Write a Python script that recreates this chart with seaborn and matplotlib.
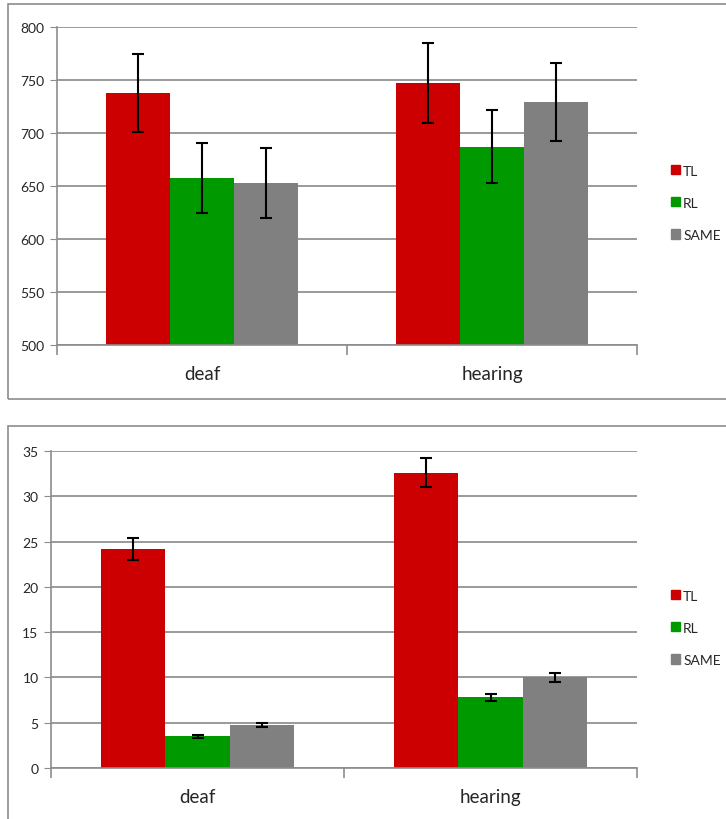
import matplotlib
matplotlib.use("Agg")
import matplotlib.pyplot as plt
import matplotlib.patches as mpatches
import seaborn as sns
import pandas as pd
import numpy as np

groups = ["deaf", "hearing"]
conditions = ["TL", "RL", "SAME"]
colors = ["#CC0000", "#009900", "#808080"]

# reaction times (ms)
rt_deaf = [738, 658, 653]
rt_hearing = [747, 687, 729]
rt_err_deaf = [37, 33, 33]
rt_err_hearing = [37.5, 34.5, 37]

# error counts
err_deaf = [24.2, 3.5, 4.75]
err_hearing = [32.6, 7.8, 10.0]
err_se_deaf = [1.2, 0.17, 0.17]
err_se_hearing = [1.6, 0.35, 0.45]

sns.set_style("white")
plt.rcParams["font.family"] = ["Lato", "DejaVu Sans"]

fig = plt.figure(figsize=(7.26, 8.2), dpi=100)
W, H = 726, 820


def frac_axes(x0, y0, x1, y1):
    return fig.add_axes([x0 / W, 1 - y1 / H, (x1 - x0) / W, (y1 - y0) / H])


def draw_panel(ax, vals_a, vals_b, errs_a, errs_b, ylim, step, leg_y):
    df = pd.DataFrame({
        "group": [groups[0]] * 3 + [groups[1]] * 3,
        "cond": conditions * 2,
        "value": list(vals_a) + list(vals_b),
        "err": list(errs_a) + list(errs_b),
    })
    ax.yaxis.grid(True, color="#9A9A9A", lw=1.4, zorder=0)
    ax.set_axisbelow(True)
    sns.barplot(data=df, x="group", y="value", hue="cond", order=groups,
                hue_order=conditions, palette=colors, width=0.66, gap=0,
                errorbar=None, ax=ax, zorder=2, linewidth=0, saturation=1)
    # error bars at bar centres
    for i, cond in enumerate(conditions):
        cont = ax.containers[i]
        for j, bar in enumerate(cont):
            row = df[(df.cond == cond) & (df.group == groups[j])].iloc[0]
            xc = bar.get_x() + bar.get_width() / 2
            ax.errorbar(xc, row.value, yerr=row.err, fmt="none", ecolor="black",
                        elinewidth=1.5, capsize=4, capthick=1.5, zorder=3)
    ax.set_ylim(*ylim)
    ax.set_yticks(np.arange(ylim[0], ylim[1] + step / 2, step))
    ax.set_xlim(-0.5, 1.5)
    ax.set_xlabel("")
    ax.set_ylabel("")
    for s in ["top", "right"]:
        ax.spines[s].set_visible(False)
    for s in ["left", "bottom"]:
        ax.spines[s].set_color("#8C8C8C")
        ax.spines[s].set_linewidth(1.2)
    ax.tick_params(axis="y", left=True, length=5, color="#8C8C8C",
                   labelsize=10, pad=4)
    ax.set_xticks([0, 1])
    ax.set_xticklabels(groups, fontsize=13.5)
    ax.tick_params(axis="x", bottom=False, pad=11)
    # category boundary ticks on the x axis
    ax.set_xticks([-0.5, 0.5, 1.5], minor=True)
    ax.tick_params(axis="x", which="minor", bottom=True, length=7,
                   color="#8C8C8C", width=1.2)
    leg = ax.get_legend()
    if leg is not None:
        leg.remove()
    handles = [mpatches.Patch(color=c, label=l) for c, l in zip(colors, conditions)]
    fig.legend(handles=handles, loc="upper left", frameon=False,
               bbox_to_anchor=(665 / W, 1 - leg_y / H), fontsize=10,
               handlelength=0.65, handleheight=0.65, handletextpad=0.25,
               labelspacing=1.45, borderaxespad=0)


# outer chart frames
fig.patches.append(mpatches.Rectangle((8 / W, 1 - 400 / H), 730 / W, 395 / H,
                                      transform=fig.transFigure, fill=False,
                                      edgecolor="#8C8C8C", lw=1.2))
fig.patches.append(mpatches.Rectangle((8 / W, 1 - 830 / H), 730 / W, 403 / H,
                                      transform=fig.transFigure, fill=False,
                                      edgecolor="#8C8C8C", lw=1.2))

ax1 = frac_axes(57, 28, 637, 346)
draw_panel(ax1, rt_deaf, rt_hearing, rt_err_deaf, rt_err_hearing, (500, 800), 50, 160)

ax2 = frac_axes(51, 452, 637, 769)
draw_panel(ax2, err_deaf, err_hearing, err_se_deaf, err_se_hearing, (0, 35), 5, 585)

fig.savefig("out.png", dpi=100)
